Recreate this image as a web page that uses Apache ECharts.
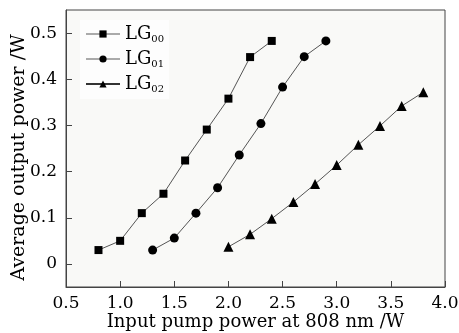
<!DOCTYPE html>
<html><head><meta charset="utf-8">
<script src="https://cdn.jsdelivr.net/npm/echarts@6/dist/echarts.min.js"></script>
<style>html,body{margin:0;padding:0;background:#fff}#c{width:459px;height:333px}</style>
</head><body><div id="c"></div>
<script>
const xTicks = [0.5, 1.0, 1.5, 2.0, 2.5, 3.0, 3.5, 4.0];
const yTicks = [0, 0.1, 0.2, 0.3, 0.4, 0.5];
const lg00X = [0.8, 1.0, 1.2, 1.4, 1.6, 1.8, 2.0, 2.2, 2.4];
const lg00Y = [0.030, 0.050, 0.110, 0.152, 0.224, 0.291, 0.358, 0.448, 0.483];
const lg01X = [1.3, 1.5, 1.7, 1.9, 2.1, 2.3, 2.5, 2.7, 2.9];
const lg01Y = [0.030, 0.056, 0.110, 0.165, 0.236, 0.304, 0.383, 0.449, 0.483];
const lg02X = [2.0, 2.2, 2.4, 2.6, 2.8, 3.0, 3.2, 3.4, 3.6, 3.8];
const lg02Y = [0.037, 0.064, 0.098, 0.134, 0.173, 0.214, 0.258, 0.299, 0.342, 0.372];
const names = ['LG00', 'LG01', 'LG02'];

const font = 'DejaVu Serif';
function pairs(xs, ys) { return xs.map((x, i) => [x, ys[i]]); }
function ser(name, xs, ys, sym, size) {
  return {
    name: name, type: 'line', data: pairs(xs, ys),
    symbol: sym, symbolSize: size,
    lineStyle: { color: '#555', width: 1 },
    itemStyle: { color: '#000' },
    emphasis: { disabled: true }
  };
}
const chart = echarts.init(document.getElementById('c'));
chart.setOption({
  animation: false,
  backgroundColor: '#fff',
  textStyle: { fontFamily: font },
  grid: { left: 66, right: 14, top: 10, bottom: 46, outerBoundsMode: 'none', containLabel: false, show: true, backgroundColor: '#f9f9f7', borderColor: '#444', borderWidth: 1 },
  legend: {
    left: 80, top: 20, orient: 'vertical', itemGap: 6, itemWidth: 34, itemHeight: 9,
    data: [
      { name: names[0], lineStyle: { color: '#aaa' } },
      { name: names[1], lineStyle: { color: '#aaa' } },
      { name: names[2], lineStyle: { color: '#333' } }
    ],
    backgroundColor: '#fdfdfd',
    formatter: function (n) { return '{a|LG}{b|' + n.slice(2) + '}'; },
    textStyle: {
      fontFamily: font, color: '#000',
      rich: {
        a: { fontSize: 18, fontFamily: font, color: '#000' },
        b: { fontSize: 10, fontFamily: font, color: '#000', verticalAlign: 'bottom', padding: [10, 0, 0, 0] }
      }
    }
  },
  xAxis: {
    type: 'value', min: 0.5, max: 4.0, interval: 0.5,
    name: 'Input pump power at 808 nm /W', nameLocation: 'middle', nameGap: 26, nameMoveOverlap: false,
    nameTextStyle: { fontSize: 18, fontFamily: font, color: '#000' },
    axisLine: { onZero: false, lineStyle: { color: '#444' } },
    axisTick: { inside: true, length: 6, lineStyle: { color: '#444' } },
    splitLine: { show: false },
    axisLabel: { fontSize: 17, fontFamily: font, color: '#000', margin: 8, formatter: v => v.toFixed(1) }
  },
  yAxis: {
    type: 'value', min: -0.05, max: 0.55,
    name: 'Average output power /W', nameLocation: 'middle', nameGap: 37, nameMoveOverlap: false,
    nameTextStyle: { fontSize: 19, fontFamily: font, color: '#000', padding: [0, 18, 0, 0] },
    axisLine: { onZero: false, lineStyle: { color: '#444' } },
    axisTick: { inside: true, length: 6, customValues: yTicks, lineStyle: { color: '#444' } },
    splitLine: { show: false },
    axisLabel: { fontSize: 17, fontFamily: font, color: '#000', margin: 9, customValues: yTicks, formatter: v => (v === 0 ? '0' : v.toFixed(1)) }
  },
  series: [
    ser(names[0], lg00X, lg00Y, 'rect', 8),
    ser(names[1], lg01X, lg01Y, 'circle', 9),
    ser(names[2], lg02X, lg02Y, 'triangle', 10)
  ]
});
</script></body></html>
